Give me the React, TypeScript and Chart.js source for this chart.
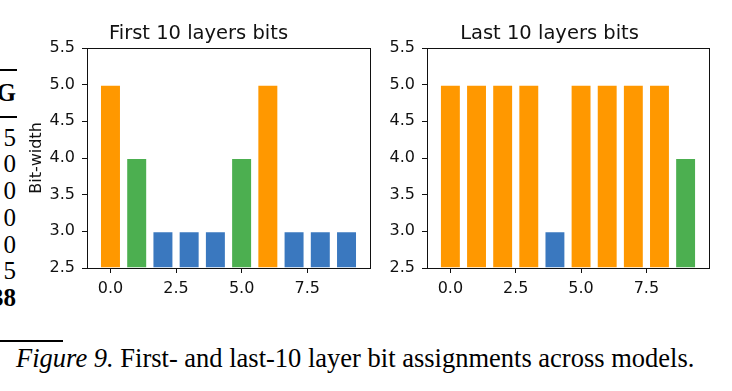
import React, { useEffect, useRef } from "react";
import { Chart, registerables } from "chart.js";

Chart.register(...registerables);

// Layer positions (x) and assigned bit-widths per layer
const layerIndex = [0, 1, 2, 3, 4, 5, 6, 7, 8, 9];
const firstLayerBits = [5, 4, 3, 3, 3, 4, 5, 3, 3, 3];
const lastLayerBits = [5, 5, 5, 5, 3, 5, 5, 5, 5, 4];

// Axis ticks and limits
const xTicks = [0, 2.5, 5, 7.5];
const yTicks = [2.5, 3.0, 3.5, 4.0, 4.5, 5.0, 5.5];
const xRange = [-0.895, 9.895];
const yRange = [2.5, 5.5];

// Colour per bit-width
const bitColors: Record<number, string> = {
  3: "#3A78BF",
  4: "#4CAF50",
  5: "#FF9800",
};

// Table fragment at the left edge
const tableRows = ["5", "0", "0", "0", "0", "5"];
const tableLast = "38";

const SANS = "'DejaVu Sans', sans-serif";
const SERIF = "'Liberation Serif', 'Times New Roman', serif";
const INK = "#111";

// Bare axis used only to draw the top / right spine of the box
function spineAxis(position: "top" | "right", range: number[]) {
  return {
    type: "linear",
    position,
    display: true,
    min: range[0],
    max: range[1],
    grid: { display: true, drawOnChartArea: false, drawTicks: false, tickLength: 0, color: "rgba(0,0,0,0)" },
    border: { display: true, color: INK, width: 1 },
    ticks: { display: false },
    afterFit: (s: any) => {
      if (position === "top") s.height = 0;
      else s.width = 0;
    },
  };
}

type PanelProps = {
  title: string;
  bits: number[];
  showYLabel: boolean;
  left: number;
  top: number;
  width: number;
  height: number;
  yAxisWidth: number;
};

function BitPanel({ title, bits, showYLabel, left, top, width, height, yAxisWidth }: PanelProps) {
  const ref = useRef<HTMLCanvasElement | null>(null);

  useEffect(() => {
    if (!ref.current) return;
    const tickFont = { family: SANS, size: 16 };
    const chart = new Chart(ref.current, {
      type: "bar",
      data: {
        datasets: [
          {
            data: layerIndex.map((x, i) => ({ x, y: bits[i] })),
            backgroundColor: bits.map((b) => bitColors[b]),
            borderColor: "rgba(255,255,255,0.45)",
            borderWidth: 1,
            base: yRange[0],
            categoryPercentage: 1,
            barPercentage: 0.8,
            clip: 0,
            xAxisID: "x",
            yAxisID: "y",
          } as any,
        ],
      },
      options: {
        responsive: false,
        animation: false,
        devicePixelRatio: 1,
        layout: { padding: { left: 0, right: 10, top: 0, bottom: 0 } },
        plugins: {
          legend: { display: false },
          tooltip: { enabled: false },
          title: {
            display: true,
            text: title,
            color: INK,
            font: { family: SANS, size: 19.5, weight: "normal" },
            padding: { top: 2, bottom: 2.6 },
          },
        },
        scales: {
          x: {
            type: "linear",
            position: "bottom",
            offset: false,
            min: xRange[0],
            max: xRange[1],
            grid: { offset: false, drawOnChartArea: false, drawTicks: true, tickLength: 5, color: INK },
            border: { display: true, color: INK, width: 1 },
            afterBuildTicks: (s: any) => {
              s.ticks = xTicks.map((v) => ({ value: v }));
            },
            ticks: {
              color: INK,
              font: tickFont,
              padding: 6,
              maxRotation: 0,
              autoSkip: false,
              callback: (v: any) => Number(v).toFixed(1),
            },
            afterFit: (s: any) => {
              s.height = 42;
            },
          },
          y: {
            position: "left",
            min: yRange[0],
            max: yRange[1],
            grid: { drawOnChartArea: false, drawTicks: true, tickLength: 5, color: INK },
            border: { display: true, color: INK, width: 1 },
            afterBuildTicks: (s: any) => {
              s.ticks = yTicks.map((v) => ({ value: v }));
            },
            ticks: {
              color: INK,
              font: tickFont,
              padding: 7,
              autoSkip: false,
              callback: (v: any) => Number(v).toFixed(1),
            },
            title: {
              display: showYLabel,
              text: "Bit-width",
              color: INK,
              font: { family: SANS, size: 16 },
              padding: 0,
            },
            afterFit: (s: any) => {
              s.width = yAxisWidth;
            },
          },
          xTop: spineAxis("top", xRange),
          yRight: spineAxis("right", yRange),
        },
      } as any,
    });
    return () => chart.destroy();
  }, [title, bits, showYLabel, yAxisWidth]);

  return (
    <canvas
      ref={ref}
      width={width}
      height={height}
      style={{ position: "absolute", left, top, width, height }}
    />
  );
}

export default function App() {
  useEffect(() => {
    document.body.style.margin = "0";
  }, []);

  const rule = (left: number, top: number, w: number) => (
    <div style={{ position: "absolute", left, top, width: w, height: 1.5, background: "#000" }} />
  );

  const cell = (text: string, baseline: number, bold = false) => (
    <div
      key={baseline}
      style={{
        position: "absolute",
        right: 732 - 16,
        top: baseline - 21,
        fontFamily: SERIF,
        fontSize: 25,
        lineHeight: "25px",
        fontWeight: bold ? "bold" : "normal",
        whiteSpace: "nowrap",
        color: "#000",
      }}
    >
      {text}
    </div>
  );

  const rowBaselines = [146, 172, 199, 226, 253, 279];

  return (
    <div
      style={{
        position: "fixed",
        left: 0,
        top: 0,
        width: 732,
        height: 391,
        background: "#fff",
        overflow: "hidden",
      }}
    >
      {/* table fragment */}
      {rule(0, 69, 17)}
      {cell("G", 101, true)}
      {rule(0, 116, 17)}
      {tableRows.map((t, i) => cell(t, rowBaselines[i]))}
      {cell(tableLast, 306, true)}
      {rule(0, 340, 63)}

      <BitPanel
        title="First 10 layers bits"
        bits={firstLayerBits}
        showYLabel={true}
        left={27}
        top={20}
        width={353}
        height={290}
        yAxisWidth={60}
      />
      <BitPanel
        title="Last 10 layers bits"
        bits={lastLayerBits}
        showYLabel={false}
        left={390}
        top={20}
        width={329}
        height={290}
        yAxisWidth={37}
      />

      <div
        style={{
          position: "absolute",
          left: 16,
          top: 345,
          fontFamily: SERIF,
          fontSize: 26.5,
          lineHeight: "26.5px",
          whiteSpace: "nowrap",
          color: "#000",
        }}
      >
        <i>Figure 9.</i> First- and last-10 layer bit assignments across models.
      </div>
    </div>
  );
}
